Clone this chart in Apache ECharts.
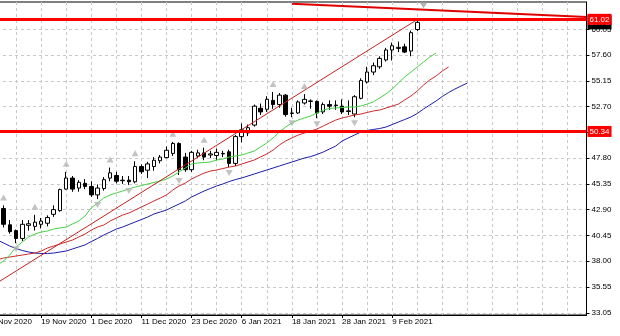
<!DOCTYPE html>
<html><head><meta charset="utf-8">
<script src="https://cdn.jsdelivr.net/npm/echarts@6/dist/echarts.min.js"></script>
<style>html,body{margin:0;padding:0;background:#fff;overflow:hidden;width:620px;height:336px;position:relative}
#c{position:absolute;left:-12px;top:0;width:632px;height:336px}</style>
</head><body><div id="c"></div>
<script>
// ---- categories (trading days) ----
const dates = ['9 Nov 2020','10 Nov 2020','11 Nov 2020','12 Nov 2020','13 Nov 2020','16 Nov 2020','17 Nov 2020','18 Nov 2020',
'19 Nov 2020','20 Nov 2020','23 Nov 2020','24 Nov 2020','25 Nov 2020','26 Nov 2020','27 Nov 2020','30 Nov 2020',
'1 Dec 2020','2 Dec 2020','3 Dec 2020','4 Dec 2020','7 Dec 2020','8 Dec 2020','9 Dec 2020','10 Dec 2020',
'11 Dec 2020','14 Dec 2020','15 Dec 2020','16 Dec 2020','17 Dec 2020','18 Dec 2020','21 Dec 2020','22 Dec 2020',
'23 Dec 2020','24 Dec 2020','28 Dec 2020','29 Dec 2020','30 Dec 2020','31 Dec 2020','4 Jan 2021','5 Jan 2021',
'6 Jan 2021','7 Jan 2021','8 Jan 2021','11 Jan 2021','12 Jan 2021','13 Jan 2021','14 Jan 2021','15 Jan 2021',
'18 Jan 2021','19 Jan 2021','20 Jan 2021','21 Jan 2021','22 Jan 2021','25 Jan 2021','26 Jan 2021','27 Jan 2021',
'28 Jan 2021','29 Jan 2021','1 Feb 2021','2 Feb 2021','3 Feb 2021','4 Feb 2021','5 Feb 2021','8 Feb 2021',
'9 Feb 2021','10 Feb 2021','11 Feb 2021','12 Feb 2021','15 Feb 2021'];
const futureSlots = 27;

// ---- candles ----
const open  = [null,null,43.0,41.45,40.9,40.15,41.4,41.3,41.5,41.6,42.45,42.8,44.85,45.9,44.95,45.4,45.1,44.3,44.9,45.9,46.15,45.65,45.7,45.55,47.0,46.65,47.0,47.55,47.85,48.25,49.2,47.9,46.7,48.0,48.3,48.1,48.05,48.2,48.4,47.3,49.85,50.2,50.95,52.55,52.45,53.3,52.9,53.8,52.05,52.1,53.05,53.2,53.2,52.2,52.9,52.8,52.75,52.3,52.0,53.5,55.05,56.0,56.5,57.15,58.1,58.25,58.4,58.0,60.05];
const close = [null,null,41.5,40.8,40.15,41.5,41.55,41.7,41.8,42.15,42.9,44.8,45.9,44.85,45.5,45.1,44.3,44.95,45.75,46.4,45.6,45.7,45.55,47.0,46.5,47.25,47.6,47.9,48.55,49.2,46.7,46.7,48.35,48.3,47.9,48.2,48.35,48.25,47.3,49.85,50.5,50.7,52.75,52.2,53.4,52.9,53.8,51.95,52.1,53.15,53.4,53.25,52.1,52.9,52.75,52.85,52.2,52.25,53.65,55.2,56.0,56.6,57.3,58.1,58.5,58.35,57.9,59.75,60.73];
const low   = [null,null,41.2,40.6,39.7,39.9,40.9,40.9,41.1,41.3,42.2,42.7,44.8,44.6,44.6,44.85,44.1,43.9,44.7,45.6,45.4,45.35,45.25,45.4,46.3,45.9,46.6,47.3,47.8,48.0,46.2,46.5,46.5,47.8,47.6,47.8,47.6,47.9,46.95,47.05,49.3,49.9,50.8,51.9,52.2,52.5,52.6,51.75,51.7,52.0,52.9,52.5,51.6,52.0,52.4,52.4,52.0,51.9,51.7,53.4,54.9,55.7,56.3,57.0,57.1,57.9,57.8,57.5,59.9];
const high  = [null,null,43.3,41.9,41.0,41.9,41.9,42.4,42.1,42.35,43.3,44.9,46.5,46.1,45.7,45.8,45.6,45.3,46.0,46.9,46.5,46.1,46.1,47.5,47.2,47.45,47.9,48.1,48.9,49.35,49.3,48.3,48.5,48.6,48.8,48.5,48.7,48.5,48.6,50.0,51.1,51.0,52.9,53.0,53.7,54.1,54.0,53.9,52.6,53.3,53.9,53.4,53.3,53.1,53.3,53.3,53.4,53.3,53.8,55.4,56.5,56.9,57.5,58.3,58.8,58.9,58.7,59.95,61.02];

// ---- Alligator lines (already shifted forward) ----
const lips  = [37.34,37.62,38.00,38.57,39.34,39.81,40.29,40.57,40.76,40.86,41.05,41.15,41.24,41.53,41.81,42.29,43.05,43.53,44.0,44.29,44.48,44.67,44.86,45.05,45.19,45.34,45.48,45.62,45.81,46.10,46.48,46.86,47.24,47.34,47.38,47.43,47.62,47.72,47.91,48.0,48.10,48.29,48.48,48.86,49.24,49.72,50.29,50.76,51.15,51.43,51.62,51.81,52.10,52.38,52.53,52.57,52.62,52.67,52.67,52.76,52.95,53.15,53.53,53.91,54.38,54.95,55.53,56.00,56.48,56.95,57.43,57.81];
const teeth = [38.00,38.10,38.29,38.38,38.48,38.57,38.67,38.76,38.95,39.24,39.43,39.62,39.81,40.00,40.29,40.57,40.95,41.24,41.43,41.81,42.10,42.38,42.57,42.86,43.15,43.43,43.72,44.0,44.29,44.76,45.15,45.43,45.81,46.10,46.38,46.57,46.67,46.81,46.95,47.05,47.24,47.43,47.62,47.91,48.19,48.57,49.05,49.43,49.72,50.0,50.19,50.38,50.57,50.86,51.15,51.43,51.62,51.76,51.91,52.00,52.15,52.29,52.38,52.57,52.76,52.95,53.34,53.72,54.19,54.76,55.24,55.62,56.10,56.48];
const jaw   = [40.19,40.00,39.72,39.43,39.19,39.00,38.86,38.76,38.72,38.72,38.76,38.86,38.95,39.15,39.34,39.53,39.86,40.15,40.48,40.76,41.05,41.24,41.48,41.72,41.95,42.19,42.48,42.67,42.86,43.15,43.43,43.72,44.10,44.38,44.67,44.91,45.15,45.34,45.57,45.76,45.91,46.10,46.29,46.48,46.67,46.86,47.05,47.24,47.43,47.62,47.81,47.95,48.15,48.38,48.67,48.95,49.43,49.72,50.00,50.29,50.43,50.53,50.62,50.76,51.00,51.24,51.48,51.72,52.05,52.48,52.86,53.24,53.67,54.05,54.38,54.67,54.95];

// ---- fractals (bar indices) ----
const upFractals = [2,7,12,19,23,29,34,45,50];
const downFractals = [4,17,22,30,38,48,52,58];

// ---- drawn objects ----
const upTrend = [[0,35.55],[68,61.0]];
const downTrend = [[48,62.5],[95,61.25]];
const levels = [61.02, 50.34];
const bidPrice = 60.73;
const shiftMarker = [[69,62.35]];

// ---- price scale ticks ----
const yTicks = [33.05,35.55,38.00,40.45,42.90,45.35,47.80,50.25,52.70,55.15,57.60,60.05];

const FONT = 'Liberation Sans';
const categories = dates.concat(Array.from({length: futureSlots}, (_, j) => 'f' + j));
const lastSlot = categories.length - 1;
const showLabel = (i) => i % 8 === 0 && i < dates.length;
const candleData = dates.map((d, i) => open[i] == null ? '-' : [open[i], close[i], low[i], high[i]]);

const chart = echarts.init(document.getElementById('c'), null, {renderer: 'canvas'});
chart.setOption({
  animation: false,
  backgroundColor: '#fff',
  grid: {left: 0, top: 2, width: 598.5, height: 313, show: true, borderColor: '#000', borderWidth: 1, backgroundColor: '#fff'},
  xAxis: {
    type: 'category', data: categories, boundaryGap: false,
    axisLine: {show: true, lineStyle: {color: '#000'}},
    axisTick: {show: true, interval: (i) => showLabel(i), length: 3, lineStyle: {color: '#000'}},
    axisLabel: {interval: (i) => showLabel(i), align: 'left', margin: 3, fontSize: 8, fontFamily: FONT, color: '#000'},
    splitLine: {show: true, interval: (i) => i % 4 === 0, lineStyle: {color: '#c8c8c8', type: [3, 3], width: 1}}
  },
  yAxis: {
    type: 'value', position: 'right', min: 32.86, max: 62.67, scale: true,
    axisLine: {show: true, lineStyle: {color: '#000'}},
    axisTick: {show: true, customValues: yTicks, length: 3, lineStyle: {color: '#000'}},
    axisLabel: {customValues: yTicks, formatter: (v) => Number(v).toFixed(2), fontSize: 8, fontFamily: FONT, color: '#000', margin: 5},
    splitLine: {show: true, lineStyle: {color: '#c8c8c8', type: [3, 3], width: 1}}
  },
  series: [
    {type: 'candlestick', data: candleData, barWidth: 4, z: 2,
     itemStyle: {color: '#fff', color0: '#000', borderColor: '#000', borderColor0: '#000', borderWidth: 1}},
    {type: 'line', data: jaw, showSymbol: false, symbol: 'none', z: 3, lineStyle: {color: '#1c1ca8', width: 1}},
    {type: 'line', data: teeth, showSymbol: false, symbol: 'none', z: 3, lineStyle: {color: '#cc2a2a', width: 1}},
    {type: 'line', data: lips, showSymbol: false, symbol: 'none', z: 3, lineStyle: {color: '#46d246', width: 1}},
    {type: 'line', data: upTrend, showSymbol: false, symbol: 'none', z: 4, lineStyle: {color: '#c42020', width: 1}},
    {type: 'line', data: downTrend, showSymbol: false, symbol: 'none', z: 7, clip: true, lineStyle: {color: '#e00000', width: 2},
     markLine: {
       silent: true, symbol: 'none', animation: false, z: 7,
       label: {show: true, position: 'end', distance: 1, formatter: (p) => Number(p.value).toFixed(2),
               color: '#fff', backgroundColor: '#ff0000', fontSize: 8, fontFamily: FONT, padding: [2, 2, 1, 2]},
       lineStyle: {color: '#ff0000', width: 3, type: 'solid'},
       data: [{yAxis: levels[1]}, {yAxis: levels[0]}]
     }},
    {type: 'scatter', data: upFractals.map(i => [i, high[i]]), symbol: 'triangle', symbolSize: [7, 6], symbolOffset: [0, -8], z: 5,
     itemStyle: {color: '#b4b4b4'}},
    {type: 'scatter', data: downFractals.map(i => [i, low[i]]), symbol: 'triangle', symbolRotate: 180, symbolSize: [7, 6], symbolOffset: [0, 6], z: 5,
     itemStyle: {color: '#b4b4b4'}},
    {type: 'scatter', data: shiftMarker, symbol: 'triangle', symbolRotate: 180, symbolSize: [8, 6], z: 5,
     itemStyle: {color: '#a0a0a0'}}
  ]
});

// bid price tag on the price scale, placed through the chart's own scales
try {
  const px = chart.convertToPixel({xAxisIndex: 0}, lastSlot);
  const py = chart.convertToPixel({yAxisIndex: 0}, bidPrice);
  chart.setOption({
    graphic: [{
      type: 'text', x: px + 1, y: py, z: 1, silent: true,
      style: {text: bidPrice.toFixed(2), fill: '#fff', backgroundColor: '#000', padding: [2, 2, 4, 2],
              font: '8px "Liberation Sans"', verticalAlign: 'middle', align: 'left'}
    }]
  });
} catch (e) {}
</script>
</body></html>
